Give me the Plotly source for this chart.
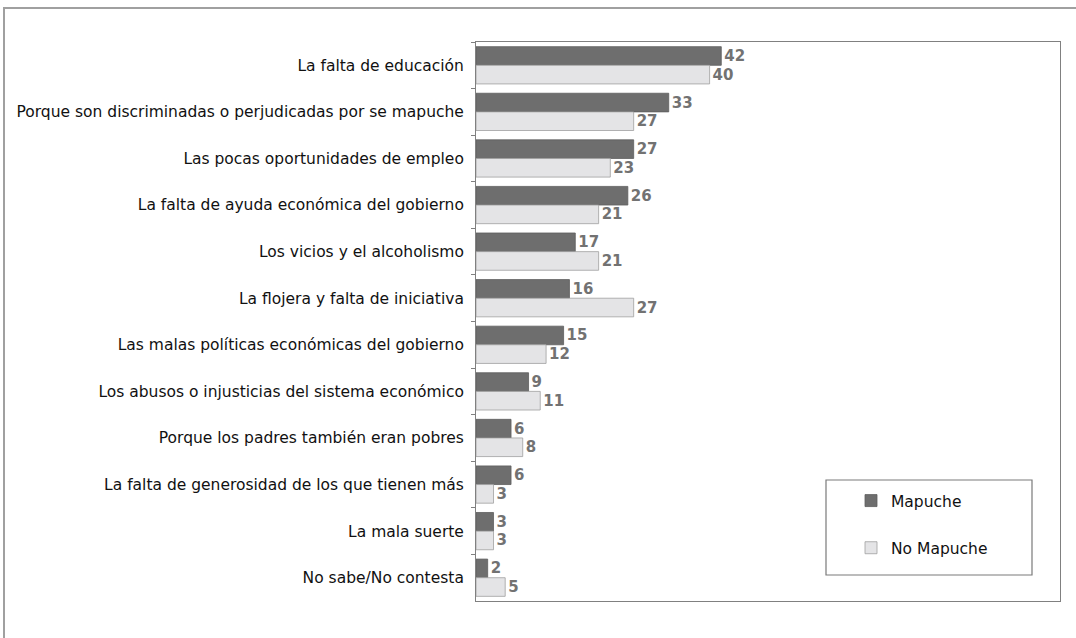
import plotly.graph_objects as go

categories = [
    "La falta de educación",
    "Porque son discriminadas o perjudicadas por se mapuche",
    "Las pocas oportunidades de empleo",
    "La falta de ayuda económica del gobierno",
    "Los vicios y el alcoholismo",
    "La flojera y falta de iniciativa",
    "Las malas políticas económicas del gobierno",
    "Los abusos o injusticias del sistema económico",
    "Porque los padres también eran pobres",
    "La falta de generosidad de los que tienen más",
    "La mala suerte",
    "No sabe/No contesta",
]
mapuche = [42, 33, 27, 26, 17, 16, 15, 9, 6, 6, 3, 2]
no_mapuche = [40, 27, 23, 21, 21, 27, 12, 11, 8, 3, 3, 5]

font_family = "DejaVu Sans"

W, H = 1076, 638
ML, MR, MT, MB = 476, 16, 42, 37
PW, PH = W - ML - MR, H - MT - MB


def px(x):
    return (x - ML) / PW


def py(y):
    return (H - MB - y) / PH


label_font = dict(color="#727272", size=15, family=font_family, weight="bold")

fig = go.Figure()
fig.add_trace(go.Bar(
    y=categories, x=mapuche, name="Mapuche", orientation="h", legendgroup="a",
    marker=dict(color="#6e6e6e", line=dict(color="#5e5e5e", width=0.8)),
    text=[str(v) for v in mapuche], textposition="outside",
    textfont=label_font, cliponaxis=False,
))
fig.add_trace(go.Bar(
    y=categories, x=no_mapuche, name="No Mapuche", orientation="h", legendgroup="b",
    marker=dict(color="#e4e4e6", line=dict(color="#a0a0a0", width=0.8)),
    text=[str(v) for v in no_mapuche], textposition="outside",
    textfont=label_font, cliponaxis=False,
))

fig.update_layout(
    width=W, height=H,
    barmode="group", bargap=0.2, bargroupgap=0,
    margin=dict(l=ML, r=MR, t=MT, b=MB),
    paper_bgcolor="white", plot_bgcolor="white",
    font=dict(family=font_family, size=15, color="#111111"),
    showlegend=True,
    legend=dict(
        x=px(851), y=py(484), xanchor="left", yanchor="top",
        bgcolor="rgba(0,0,0,0)", borderwidth=0,
        font=dict(size=15.5, color="#111111", family=font_family),
        tracegroupgap=24,
    ),
    xaxis=dict(range=[0, 100], showticklabels=False, ticks="", showgrid=False,
               zeroline=False, showline=True, linecolor="#808080", linewidth=1, mirror=True),
    yaxis=dict(autorange="reversed", type="category", tickson="boundaries",
               ticks="outside", ticklen=4, tickcolor="#808080",
               showline=True, linecolor="#808080", linewidth=1, mirror=True,
               showgrid=False, ticklabelstandoff=8,
               tickfont=dict(size=15.5, color="#111111", family=font_family)),
    shapes=[
        dict(type="rect", xref="paper", yref="paper",
             x0=px(4), x1=px(1090), y0=py(660), y1=py(8),
             line=dict(color="#a0a0a0", width=2), fillcolor="rgba(0,0,0,0)", layer="below"),
        dict(type="rect", xref="paper", yref="paper",
             x0=px(826), x1=px(1032), y0=py(575), y1=py(480),
             line=dict(color="#7a7a7a", width=1.2), fillcolor="white", layer="above"),
    ],
)

fig.write_html("out.html", config={"displayModeBar": False},
               post_script="document.body.style.margin='0';")
